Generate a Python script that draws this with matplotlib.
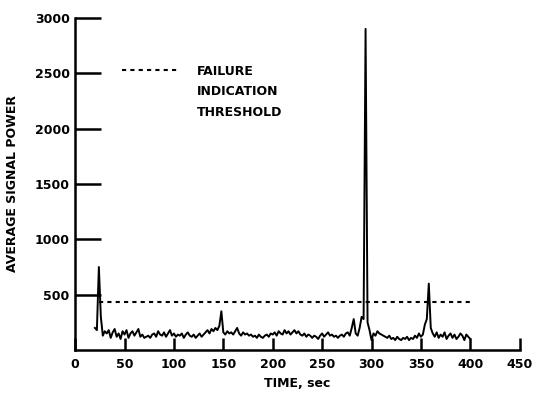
import numpy as np
import matplotlib.pyplot as plt

# sample times (sec) and averaged signal power
times = np.arange(20, 401, 2)
power = [
    200, 180, 750, 300, 130, 170, 150, 180, 110, 160,
    190, 120, 150, 100, 170, 140, 180, 110, 150, 170,
    130, 160, 190, 120, 140, 110, 120, 130, 110, 140,
    150, 120, 170, 140, 130, 160, 120, 150, 180, 130,
    150, 120, 140, 130, 150, 110, 140, 160, 130, 120,
    140, 110, 130, 150, 120, 140, 160, 180, 150, 190,
    170, 200, 180, 220, 350, 160, 140, 170, 150, 160,
    140, 170, 200, 150, 130, 160, 140, 150, 130, 140,
    120, 130, 110, 140, 120, 110, 130, 140, 120, 150,
    140, 160, 130, 170, 150, 140, 180, 150, 170, 140,
    160, 180, 150, 170, 140, 130, 150, 120, 140, 130,
    110, 130, 120, 100, 130, 150, 120, 140, 160, 130,
    140, 120, 130, 110, 130, 140, 120, 150, 160, 130,
    200, 280, 150, 130, 200, 300, 280, 2900, 250, 180,
    90, 150, 130, 170, 150, 140, 130, 120, 110, 130,
    100, 110, 90, 120, 100, 90, 110, 100, 120, 90,
    110, 100, 130, 110, 150, 120, 140, 230, 280, 600,
    200, 150, 120, 160, 110, 140, 120, 160, 100, 130,
    150, 110, 140, 100, 120, 150, 130, 90, 140, 120,
    100,
]
threshold_times = [24, 400]
threshold_level = 430

xticks = [0, 50, 100, 150, 200, 250, 300, 350, 400, 450]
yticks = [500, 1000, 1500, 2000, 2500, 3000]

font = dict(family='DejaVu Sans', weight='bold', size=9)

fig = plt.figure(figsize=(5.33, 3.96), dpi=100)
ax = fig.add_axes([0.141, 0.116, 0.834, 0.839])

ax.plot(times, power, color='black', lw=1.4)
ax.plot(threshold_times, [threshold_level] * 2, color='black', lw=1.5,
        dashes=(2, 2), label='FAILURE')
ax.plot([], [], color='none', label='INDICATION')
ax.plot([], [], color='none', label='THRESHOLD')

ax.set_xlim(0, 450)
ax.set_ylim(0, 3000)
for side in ['top', 'right']:
    ax.spines[side].set_visible(False)
for side in ['left', 'bottom']:
    ax.spines[side].set_linewidth(1.8)

ax.set_xticks(xticks)
ax.set_yticks(yticks)
ax.tick_params(axis='x', direction='in', length=9, width=1.8, pad=6)
ax.tick_params(axis='y', direction='in', length=19, width=1.8, pad=4)
ax.set_xticklabels([str(v) for v in xticks], fontdict=font)
ax.set_yticklabels([str(v) for v in yticks], fontdict=font)

ax.set_xlabel('TIME, sec', fontdict=font, labelpad=4)
ax.set_ylabel('AVERAGE SIGNAL POWER', fontdict=font, labelpad=11)

leg = ax.legend(loc='upper left', bbox_to_anchor=(0.08, 0.893), frameon=False,
                handlelength=4.4, handletextpad=1.6, labelspacing=0.62,
                prop=dict(family='DejaVu Sans', weight='bold', size=9))

fig.savefig('out.png', dpi=100)
